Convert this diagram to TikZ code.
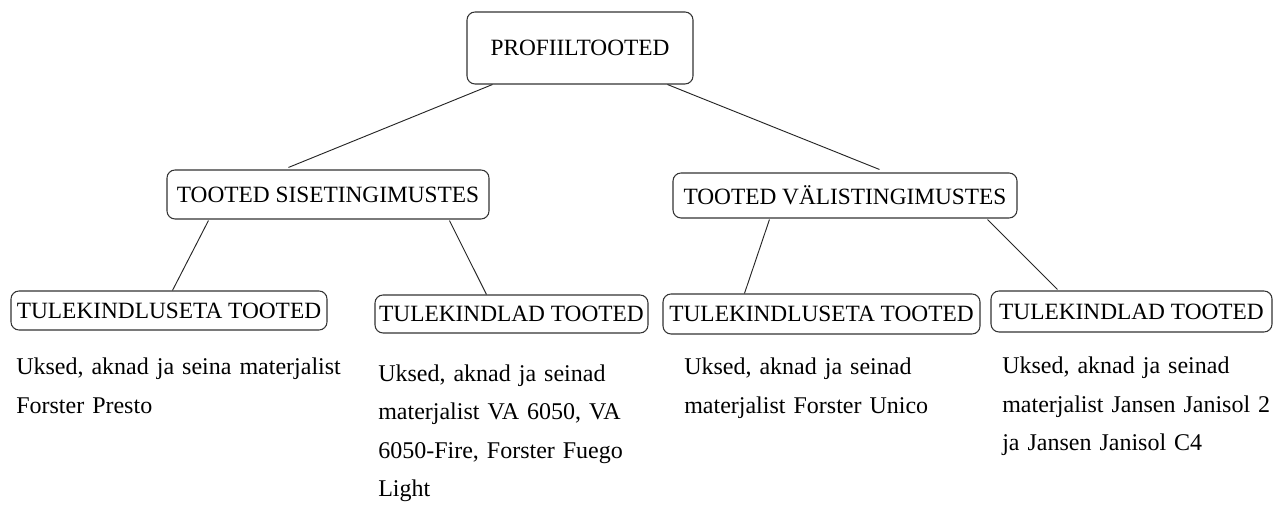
\documentclass[tikz,border=0pt]{standalone}
\usepackage{fontspec}
\setmainfont{Liberation Serif}
\usetikzlibrary{calc}

\begin{document}
\begin{tikzpicture}[x=0.75pt, y=-0.75pt,
    box/.style={draw=black!80, line width=0.8pt, rounded corners=6pt, inner sep=1pt,
      font=\fontsize{17.5}{21}\selectfont},
    note/.style={anchor=base west, inner sep=0pt, text width=300pt, align=left,
      font=\fontsize{18}{28.7}\selectfont},
    edge/.style={draw=black!85, line width=0.7pt}]

    \useasboundingbox (0,0) rectangle (1279,505);

    % Nodes
    \node[box, minimum width=169.5pt, minimum height=54pt] (root) at (580,48) {PROFIILTOOTED};
    \node[box, minimum width=241.5pt, minimum height=36.75pt] (sise) at (328,194.5) {TOOTED SISETINGIMUSTES};
    \node[box, minimum width=258pt, minimum height=33.75pt] (valis) at (845,195.5) {TOOTED VÄLISTINGIMUSTES};
    \node[box, minimum width=237pt, minimum height=29.25pt] (siseA) at (169,310.5) {TULEKINDLUSETA TOOTED};
    \node[box, minimum width=204.75pt, minimum height=28.5pt] (siseB) at (511.5,314) {TULEKINDLAD TOOTED};
    \node[box, minimum width=237.75pt, minimum height=30pt] (valisA) at (821.5,314) {TULEKINDLUSETA TOOTED};
    \node[box, minimum width=210.75pt, minimum height=30.75pt] (valisB) at (1131.5,311.5) {TULEKINDLAD TOOTED};

    % Texts
    \node[note] (noteSA) at (16,375) {Uksed, aknad ja seina materjalist\\Forster Presto};
    \node[note] (noteSB) at (378,381.5) {Uksed, aknad ja seinad\\materjalist VA 6050, VA\\6050-Fire, Forster Fuego\\Light};
    \node[note] (noteVA) at (684,375) {Uksed, aknad ja seinad\\materjalist Forster Unico};
    \node[note] (noteVB) at (1002,374) {Uksed, aknad ja seinad\\materjalist Jansen Janisol 2\\ja Jansen Janisol C4};

    % Edges
    \draw[edge] ($(root.south west)+(26,0)$) -- ($(sise.north west)+(122,-2)$);
    \draw[edge] ($(root.south west)+(201,0)$) -- ($(valis.north west)+(207,-3)$);
    \draw[edge] ($(sise.south west)+(42,1)$) -- ($(siseA.north west)+(162,0)$);
    \draw[edge] ($(sise.south west)+(283,1)$) -- ($(siseB.north west)+(112,0)$);
    \draw[edge] ($(valis.south west)+(97,1)$) -- ($(valisA.north west)+(82,0)$);
    \draw[edge] ($(valis.south west)+(315,1)$) -- ($(valisB.north west)+(67,-1)$);

\end{tikzpicture}
\end{document}
